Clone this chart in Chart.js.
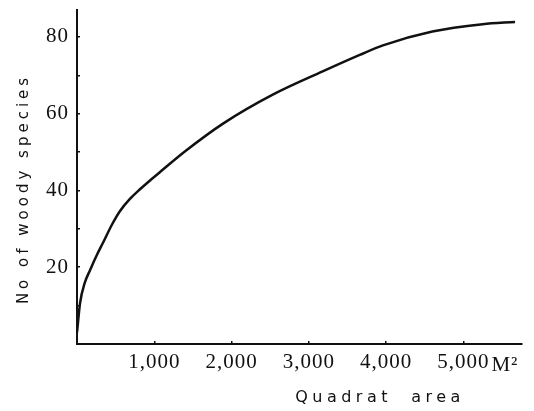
<!DOCTYPE html>
<html>
<head>
<meta charset="utf-8">
<script src="https://cdn.jsdelivr.net/npm/chart.js@4"></script>
<style>
  html, body { margin: 0; padding: 0; background: #fff; }
  #wrap { width: 534px; height: 411px; }
</style>
</head>
<body>
<div id="wrap"><canvas id="curve"></canvas></div>
<script>
// species-area curve: quadrat area (m2) vs number of woody species
const areas = [0, 40, 100, 170, 260, 335, 455, 555, 685, 815, 945, 1075, 1400, 1890, 2540, 3180, 3660, 3960, 4600, 5250, 5670];
const species = [3, 10.7, 15.9, 19.3, 23.3, 26.3, 31.2, 34.6, 37.8, 40.3, 42.6, 44.8, 50.2, 57.4, 65.0, 71.0, 75.3, 77.8, 81.4, 83.3, 83.9];
const xTicks = [0, 1000, 2000, 3000, 4000, 5000];
const yLabels = [20, 40, 60, 80];
const xTitle = 'Quadrat  area';
const yTitle = 'No of woody species';
const xUnit = 'M\u00b2';

const serif = '"Liberation Serif", "DejaVu Serif", serif';
const sans = '"DejaVu Sans", "Liberation Sans", sans-serif';

const points = areas.map((a, i) => ({ x: a, y: species[i] }));

// axis titles and the unit after the last x label
const annotate = {
  id: 'annotate',
  beforeDraw(chart) {
    chart.ctx.letterSpacing = '1px';
  },
  afterDraw(chart) {
    const ctx = chart.ctx;
    const xs = chart.scales.x;
    ctx.save();
    ctx.fillStyle = '#111';
    ctx.font = '21px ' + serif;
    ctx.letterSpacing = '1px';
    const px = xs.getPixelForValue(xTicks[xTicks.length - 1]);
    const w = ctx.measureText('5,000').width;
    ctx.textAlign = 'left';
    ctx.textBaseline = 'alphabetic';
    ctx.fillText(xUnit, px + w / 2 + 2, 371);

    ctx.font = '16px ' + sans;
    ctx.letterSpacing = '4.5px';
    ctx.textAlign = 'center';
    ctx.textBaseline = 'middle';
    ctx.fillText(xTitle, 380, 398);

    ctx.font = '15px ' + sans;
    ctx.letterSpacing = '4px';
    ctx.translate(24, 189);
    ctx.rotate(-Math.PI / 2);
    ctx.fillText(yTitle, 0, 0);
    ctx.restore();
  }
};

new Chart(document.getElementById('curve'), {
  type: 'line',
  data: {
    datasets: [{
      data: points,
      borderColor: '#111',
      borderWidth: 2.5,
      pointRadius: 0,
      fill: false,
      cubicInterpolationMode: 'monotone'
    }]
  },
  options: {
    responsive: true,
    maintainAspectRatio: false,
    animation: false,
    layout: { padding: { left: 0, top: 10, right: 12, bottom: 0 } },
    plugins: { legend: { display: false }, tooltip: { enabled: false } },
    scales: {
      x: {
        type: 'linear',
        min: 0,
        max: 5760,
        afterBuildTicks(scale) { scale.ticks = xTicks.map((v) => ({ value: v })); },
        afterFit(scale) {
          scale.height = 67;
          scale.paddingLeft = 0;
          scale.paddingRight = 0;
        },
        border: { display: true, color: '#111', width: 2 },
        grid: { display: true, drawOnChartArea: false, drawTicks: true, tickLength: -3, color: '#111', lineWidth: 1.5 },
        ticks: {
          padding: 9,
          color: '#111',
          autoSkip: false,
          font: { family: serif, size: 21 },
          maxRotation: 0,
          callback: (v) => v === 0 ? '' : v.toLocaleString('en-US')
        }
      },
      y: {
        min: 0,
        max: 87,
        afterFit(scale) {
          scale.width = 77;
          scale.paddingTop = 0;
          scale.paddingBottom = 0;
        },
        border: { display: true, color: '#111', width: 2 },
        grid: { display: true, drawOnChartArea: false, drawTicks: true, tickLength: -3, color: '#111', lineWidth: 1.5 },
        ticks: {
          stepSize: 10,
          includeBounds: false,
          padding: 11,
          color: '#111',
          font: { family: serif, size: 21 },
          callback: (v) => yLabels.includes(v) ? String(v) : ''
        }
      }
    }
  },
  plugins: [annotate]
});
</script>
</body>
</html>
